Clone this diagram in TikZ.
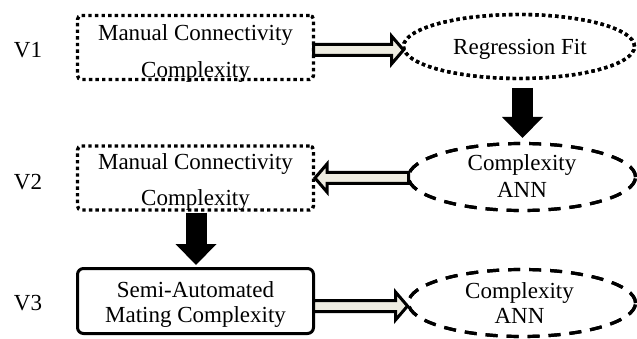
\documentclass[tikz,border=0pt]{standalone}
\usepackage{fontspec}
\setmainfont{Liberation Serif}
\usetikzlibrary{arrows.meta,calc,shapes.geometric}
\definecolor{beige}{HTML}{EEECE1}
\newcommand\harrow[3]{% #1 tail, #2 tip, #3 direction (+1 right, -1 left)
  \filldraw[hollow] ($(#1)+(0,-5.5)$) -- ($(#2)+({-12*#3},-5.5)$) -- ($(#2)+({-12*#3},-14)$) -- (#2)
    -- ($(#2)+({-12*#3},14)$) -- ($(#2)+({-12*#3},5.5)$) -- ($(#1)+(0,5.5)$) -- cycle;}
\begin{document}
\begin{tikzpicture}[x=1pt,y=-1pt,
  every node/.style={inner sep=0pt, outer sep=0pt},
  txt/.style={font=\fontsize{23}{37}\selectfont, align=center},
  txtb/.style={font=\fontsize{23}{36}\selectfont, align=center},
  txtc/.style={font=\fontsize{23}{25}\selectfont, align=center},
  txtd/.style={font=\fontsize{23}{27}\selectfont, align=center},
  dotbox/.style={draw, line width=3.4pt, dash pattern=on 3.4pt off 3.2pt, rounded corners=4pt, minimum width=236pt, minimum height=64pt},
  solidbox/.style={draw, line width=3pt, rounded corners=6pt, minimum width=236pt, minimum height=65pt},
  dotell/.style={ellipse, draw, line width=3.4pt, dash pattern=on 3.4pt off 3.2pt, minimum width=231pt, minimum height=64pt},
  dashell/.style={ellipse, draw, line width=3.2pt, dash pattern=on 12pt off 9pt, minimum width=227pt, minimum height=67pt},
  blk/.style={draw=black, line width=21pt, -{Triangle[width=41pt,length=21pt,line width=0pt]}},
  hollow/.style={draw=black, fill=beige, line width=3pt, line join=miter}
]
\useasboundingbox (0,0) rectangle (637,339);

% row labels
\node[font=\fontsize{23}{25}\selectfont] (v1) at (28,50) {V1};
\node[font=\fontsize{23}{25}\selectfont] (v2) at (28,182) {V2};
\node[font=\fontsize{23}{25}\selectfont] (v3) at (28,303) {V3};

% boxes
\node[dotbox] (b1) at (195.5,47.5) {};
\node[txt] (b1t) at (195.5,53.7) {Manual Connectivity\\Complexity};
\node[dotbox] (b2) at (195.5,178) {};
\node[txtb] (b2t) at (195.5,182) {Manual Connectivity\\Complexity};
\node[solidbox] (b3) at (195.5,301) {};
\node[txtc] (b3t) at (195.5,304.7) {Semi-Automated\\Mating Complexity};

% ellipses
\node[dotell] (e1) at (519,46.5) {};
\node[txt] (e1t) at (520,49) {Regression Fit};
\node[dashell] (e2) at (522,177) {};
\node[txtd] (e2t) at (522,176) {Complexity\\ANN};
\node[dashell] (e3) at (522,303) {};
\node[txtc] (e3t) at (519.5,303.5) {Complexity\\ANN};

% hollow arrows
\coordinate (a1s) at ([yshift=-2.5pt]b1.east);
\coordinate (a1e) at (a1s -| e1.west);
\harrow{a1s}{a1e}{1}
\coordinate (a2s) at ([yshift=-1pt]e2.west);
\coordinate (a2e) at ([xshift=1.5pt]a2s -| b2.east);
\harrow{a2s}{a2e}{-1}
\coordinate (a3s) at ([yshift=-5pt]b3.east);
\coordinate (a3e) at ([xshift=-1pt]a3s -| e3.west);
\harrow{a3s}{a3e}{1}

% redraw ellipse outlines over arrow tips
\node[dotell] at (e1) {};
\node[dashell] at (e2) {};
\node[dashell] at (e3) {};

% black arrows
\draw[blk] ([xshift=3.5pt,yshift=-9.5pt]e1.south) -- ([xshift=0.5pt,yshift=5.5pt]e2.north);
\draw[blk] ([xshift=0.5pt,yshift=-3pt]b2.south) -- ([xshift=0.5pt,yshift=3.5pt]b3.north);
\end{tikzpicture}
\end{document}
